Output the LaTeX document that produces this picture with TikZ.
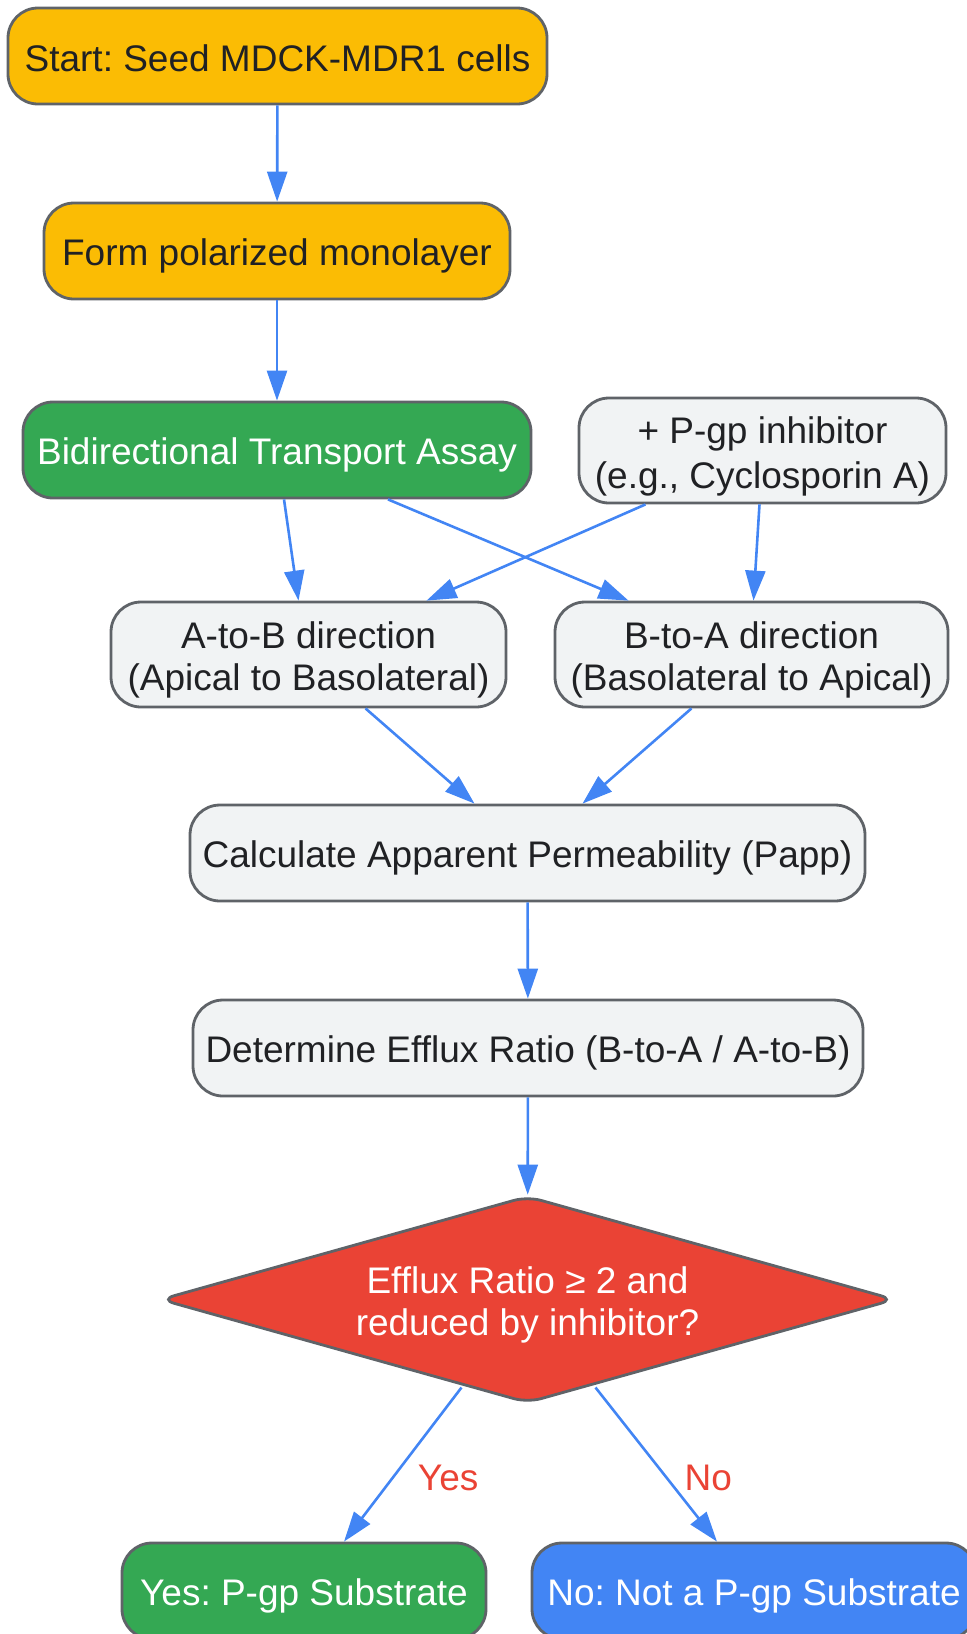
\documentclass[tikz,border=0pt]{standalone}
\usepackage{fontspec}
\setmainfont{Liberation Sans}
\frenchspacing
\usetikzlibrary{shapes.geometric,arrows.meta}

\definecolor{gyellow}{HTML}{FBBC04}
\definecolor{ggreen}{HTML}{34A853}
\definecolor{gred}{HTML}{EA4335}
\definecolor{gblue}{HTML}{4285F4}
\definecolor{ggray}{HTML}{F1F3F4}
\definecolor{gborder}{HTML}{5F6368}
\definecolor{gtext}{HTML}{202124}

% struts so every line sits at the same height in its box
\newcommand{\lstrut}{\rule[-6pt]{0pt}{42pt}}
\newcommand{\topstrut}{\rule[-6pt]{0pt}{44pt}}

\tikzset{
  box/.style={draw=gborder, line width=2.8pt, rounded corners=30pt, minimum height=96pt,
    inner sep=0pt, align=center, text=gtext, font=\fontsize{37pt}{42pt}\selectfont,
    execute at begin node=\lstrut},
  twoline/.style={box, minimum height=105pt},
  decision/.style={diamond, draw=gborder, line width=2.8pt, fill=gred, text=white,
    minimum width=735pt, minimum height=207pt, aspect=3.5, inner sep=0pt,
    rounded corners=14pt, align=center, font=\fontsize{37pt}{42pt}\selectfont},
  flow/.style={draw=gblue, line width=2.6pt, -{Triangle[length=30pt,width=20pt]}},
  lbl/.style={text=gred, font=\fontsize{37pt}{42pt}\selectfont},
}

\begin{document}
\begin{tikzpicture}[x=1pt, y=-1pt]
    \useasboundingbox (0,0) rectangle (967,1634);
    % the preparation steps
    \node[box, fill=gyellow, minimum width=539pt] (seed) at (277.5,56) {Start: Seed MDCK-MDR1 cells};
    \node[box, fill=gyellow, minimum width=466pt] (mono) at (277,251) {Form polarized monolayer};
    \node[box, fill=ggreen, text=white, minimum width=508pt] (assay) at (277,450) {Bidirectional Transport Assay};
    \node[twoline, fill=ggray, minimum width=367pt] (inhib) at (762.5,450.5) {\topstrut+ P-gp inhibitor\\\lstrut(e.g., Cyclosporin A)};
    % the two directions
    \node[twoline, fill=ggray, minimum width=395pt] (atob) at (308.5,654.5) {\topstrut A-to-B direction\\\lstrut(Apical to Basolateral)};
    \node[twoline, fill=ggray, minimum width=393pt] (btoa) at (751.5,654.5) {\topstrut B-to-A direction\\\lstrut(Basolateral to Apical)};
    % the analysis
    \node[box, fill=ggray, minimum width=675pt] (papp) at (527.5,853) {Calculate Apparent Permeability (Papp)};
    \node[box, fill=ggray, minimum width=670pt] (ratio) at (528,1048) {Determine Efflux Ratio (B-to-A / A-to-B)};
    \node[decision] (check) at (527.5,1299.5) {\topstrut Efflux Ratio ≥ 2 and\\\lstrut reduced by inhibitor?};
    % the outcomes
    \node[box, fill=ggreen, text=white, minimum width=364pt] (yes) at (304,1591) {Yes: P-gp Substrate};
    \node[box, fill=gblue, text=white, minimum width=444pt] (no) at (754,1591) {No: Not a P-gp Substrate};
    % draw the arrows
    \draw[flow] (seed) -- (mono);
    \draw[flow] (mono) -- (assay);
    \draw[flow] ([xshift=7pt]assay.south) -- ([xshift=-10pt]atob.north);
    \draw[flow] ([xshift=111pt]assay.south) -- ([xshift=-123pt]btoa.north);
    \draw[flow] ([xshift=-117pt]inhib.south) -- ([xshift=118pt]atob.north);
    \draw[flow] ([xshift=-3pt]inhib.south) -- ([xshift=2pt]btoa.north);
    \draw[flow] ([xshift=57pt]atob.south) -- ([xshift=-53pt]papp.north);
    \draw[flow] ([xshift=-60pt]btoa.south) -- ([xshift=55pt]papp.north);
    \draw[flow] (papp) -- (ratio);
    \draw[flow] (ratio) -- (check);
    \draw[flow] ([shift={(-66,88)}]check.center) -- node[lbl, pos=0.59, xshift=56pt] {Yes} ([xshift=40pt]yes.north);
    \draw[flow] ([shift={(68,88)}]check.center) -- node[lbl, pos=0.59, xshift=41pt] {No} ([xshift=-37pt]no.north);
\end{tikzpicture}
\end{document}
